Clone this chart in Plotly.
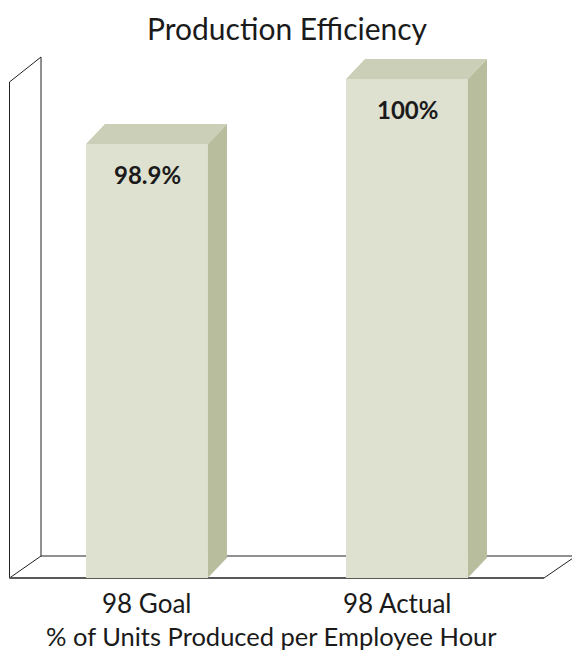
import plotly.graph_objects as go

# ---- data ----
categories = ["98 Goal", "98 Actual"]
values = [98.9, 100.0]
value_labels = ["98.9%", "100%"]
title_text = "Production Efficiency"
axis_title = "% of Units Produced per Employee Hour"

# ---- styling / geometry ----
W, H = 572, 652
FRONT = "#DEE0D0"
TOP = "#CCCFB7"
SIDE = "#B8BE9D"
FONT = "Lato"

# axis scales (value axis: pixels per unit), chosen so the baseline sits on the floor
BASE = 91.56
PX_PER_UNIT = 59.09
TOP_PX = 79.0          # pixel row of the 100 value
X0_PX, X_STEP = 147.0, 260.0
BAR_W = 0.469
DDX = 19 / X_STEP      # bar depth in x units
DDY = 20 / PX_PER_UNIT # bar depth in value units

y_top = 100 + TOP_PX / PX_PER_UNIT
y_bot = 100 - (H - TOP_PX) / PX_PER_UNIT
x_lo = -X0_PX / X_STEP
x_hi = (W - X0_PX) / X_STEP

fig = go.Figure()

xs = list(range(len(categories)))
fig.add_trace(go.Bar(x=xs, y=[v - BASE for v in values], base=BASE, width=BAR_W,
                     marker=dict(color=FRONT, line=dict(width=0)), hoverinfo="skip"))

for i, v in zip(xs, values):
    l, r = i - BAR_W / 2, i + BAR_W / 2
    fig.add_trace(go.Scatter(x=[l, r, r + DDX, l + DDX, l], y=[v, v, v + DDY, v + DDY, v],
                             fill="toself", fillcolor=TOP, mode="lines",
                             line=dict(width=0, color=TOP), hoverinfo="skip"))
    fig.add_trace(go.Scatter(x=[r, r, r + DDX, r + DDX, r], y=[BASE, v, v + DDY, BASE + DDY, BASE],
                             fill="toself", fillcolor=SIDE, mode="lines",
                             line=dict(width=0, color=SIDE), hoverinfo="skip"))

def px(xp, yp):
    return xp / W, 1 - yp / H

shapes = []
def seg(x1, y1, x2, y2, color="#222222", width=1):
    a = px(x1, y1); b = px(x2, y2)
    shapes.append(dict(type="line", xref="paper", yref="paper", x0=a[0], y0=a[1], x1=b[0], y1=b[1],
                       line=dict(color=color, width=width), layer="below"))

# wall and floor frame
seg(9.5, 82, 9.5, 578)
seg(9.5, 82, 41, 57)
seg(41, 57, 41, 556)
seg(41, 556, 600, 556)
seg(9.5, 578, 41, 556)
seg(544, 578, 576, 556)
seg(9.5, 578, 544, 578, color="#595959", width=2)

annotations = []
for i, v, t in zip(xs, values, value_labels):
    annotations.append(dict(x=i, y=v, xref="x", yref="y", text=f"<b>{t}</b>", showarrow=False,
                            yshift=-30, font=dict(family=FONT, size=24, color="#1a1a1a")))

cat_px = [146.5, 397.0]
for c, cx in zip(categories, cat_px):
    p = px(cx, 603)
    annotations.append(dict(x=p[0], y=p[1], xref="paper", yref="paper", text=c, showarrow=False,
                            xanchor="center", yanchor="middle",
                            font=dict(family=FONT, size=26, color="#1a1a1a")))

p = px(271, 636)
annotations.append(dict(x=p[0], y=p[1], xref="paper", yref="paper", text=axis_title, showarrow=False,
                        xanchor="center", yanchor="middle",
                        font=dict(family=FONT, size=25.5, color="#1a1a1a")))
p = px(287, 28)
annotations.append(dict(x=p[0], y=p[1], xref="paper", yref="paper", text=title_text, showarrow=False,
                        xanchor="center", yanchor="middle",
                        font=dict(family=FONT, size=30, color="#1a1a1a")))

fig.update_layout(
    width=W, height=H, margin=dict(l=0, r=0, t=0, b=0),
    paper_bgcolor="white", plot_bgcolor="rgba(0,0,0,0)",
    showlegend=False, shapes=shapes, annotations=annotations,
    xaxis=dict(range=[x_lo, x_hi], visible=False, fixedrange=True),
    yaxis=dict(range=[y_bot, y_top], visible=False, fixedrange=True),
    bargap=0,
)

fig.write_html("out.html")
